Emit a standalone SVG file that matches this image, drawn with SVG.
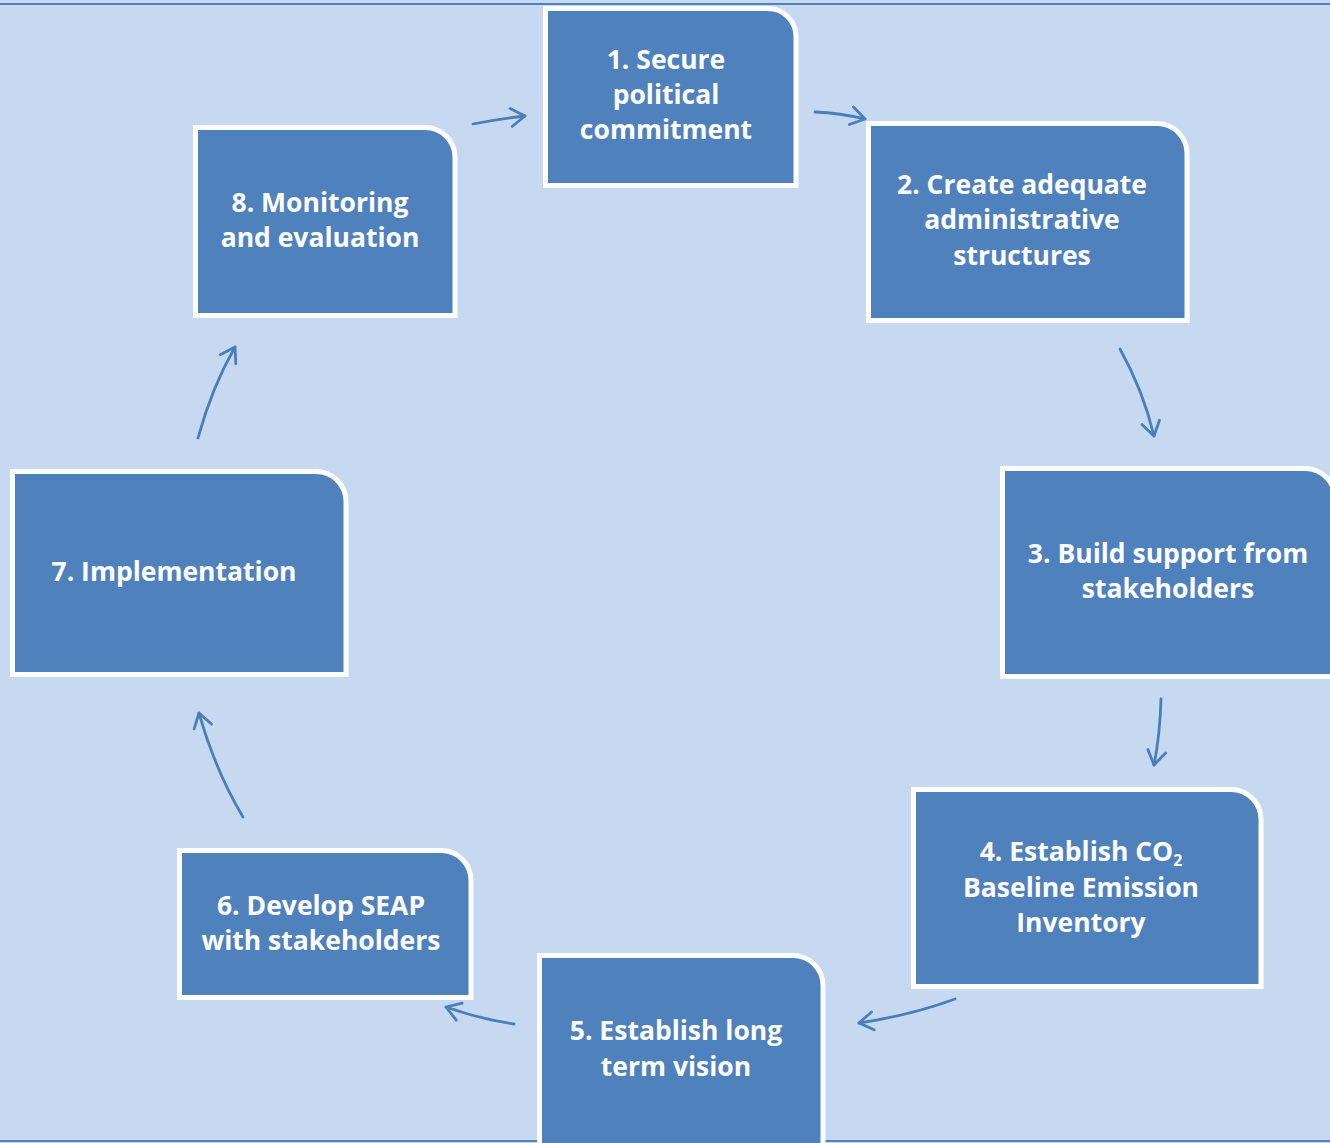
<svg xmlns="http://www.w3.org/2000/svg" width="1330" height="1143" viewBox="0 0 1330 1143">
<defs>
<marker id="ah" markerUnits="userSpaceOnUse" markerWidth="30" markerHeight="30" refX="16" refY="10" orient="auto" overflow="visible">
<path d="M2,1 L16,10 L2,19" fill="none" stroke="#4A7EBB" stroke-width="2.8" stroke-linecap="round" stroke-linejoin="round"/>
</marker>
<style>
.node{fill:#4F81BD;stroke:#FFFFFF;stroke-width:5}
.t{font-family:"Open Sans","Liberation Sans",sans-serif;font-weight:bold;font-size:26.5px;fill:#FFFFFF;text-anchor:middle}
.c{fill:none;stroke:#4A7EBB;stroke-width:2.8;stroke-linecap:round;marker-end:url(#ah)}
</style>
</defs>
<rect x="0" y="0" width="1330" height="1143" fill="#C6D9F0"/>
<line x1="0" y1="4" x2="1330" y2="4" stroke="#4F81BD" stroke-width="2"/>
<line x1="0" y1="1141" x2="1330" y2="1141" stroke="#4F81BD" stroke-width="2"/>
<g id="connectors">
<path class="c" d="M473,124 Q498,119 525,116"/>
<path class="c" d="M815,112 Q840,113 865,119"/>
<path class="c" d="M1120,349 Q1143,390 1154,436"/>
<path class="c" d="M1161,699 Q1160,735 1154,765"/>
<path class="c" d="M955,999 Q912,1015 859,1023"/>
<path class="c" d="M514,1024 Q480,1019 446,1007"/>
<path class="c" d="M243,817 Q215,770 199,713"/>
<path class="c" d="M198,438 Q212,387 235,347"/>
</g>
<g id="node1">
<path class="node" d="M545.5,8.5 H768 A28,28 0 0 1 796,36.5 V185.5 H545.5 Z"/>
<text class="t" x="666" y="69">1. Secure</text>
<text class="t" x="666" y="104">political</text>
<text class="t" x="666" y="139">commitment</text>
</g>
<g id="node2">
<path class="node" d="M868.5,123.5 H1157 A30,30 0 0 1 1187,153.5 V320.5 H868.5 Z"/>
<text class="t" x="1022" y="194">2. Create adequate</text>
<text class="t" x="1022" y="229">administrative</text>
<text class="t" x="1022" y="265">structures</text>
</g>
<g id="node3">
<path class="node" d="M1002.5,468.5 H1305 A30,30 0 0 1 1335,498.5 V676.5 H1002.5 Z"/>
<text class="t" x="1168" y="563">3. Build support from</text>
<text class="t" x="1168" y="598">stakeholders</text>
</g>
<g id="node4">
<path class="node" d="M913.5,789.5 H1231 A30,30 0 0 1 1261,819.5 V986.5 H913.5 Z"/>
<text class="t" x="1081" y="861">4. Establish CO<tspan font-size="16" dy="5">2</tspan></text>
<text class="t" x="1081" y="897">Baseline Emission</text>
<text class="t" x="1081" y="932">Inventory</text>
</g>
<g id="node5">
<path class="node" d="M539.5,955.5 H793 A30,30 0 0 1 823,985.5 V1146 H539.5 Z"/>
<text class="t" x="676" y="1040">5. Establish long</text>
<text class="t" x="676" y="1076">term vision</text>
</g>
<g id="node6">
<path class="node" d="M179.5,850.5 H441 A30,30 0 0 1 471,880.5 V997.5 H179.5 Z"/>
<text class="t" x="321" y="915">6. Develop SEAP</text>
<text class="t" x="321" y="950">with stakeholders</text>
</g>
<g id="node7">
<path class="node" d="M12.5,471.5 H316 A30,30 0 0 1 346,501.5 V674.5 H12.5 Z"/>
<text class="t" x="174" y="581">7. Implementation</text>
</g>
<g id="node8">
<path class="node" d="M195.5,127.5 H425 A30,30 0 0 1 455,157.5 V315.5 H195.5 Z"/>
<text class="t" x="320" y="212">8. Monitoring</text>
<text class="t" x="320" y="247">and evaluation</text>
</g>
</svg>
